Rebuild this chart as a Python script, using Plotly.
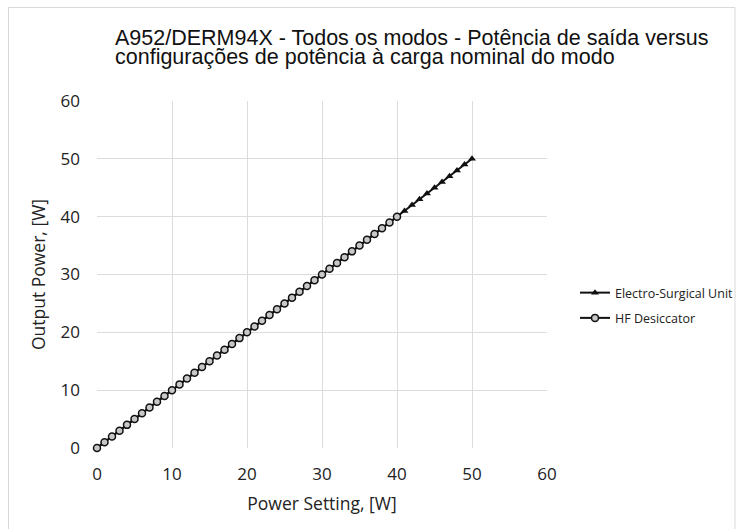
import plotly.graph_objects as go

# Data
esu_setting = list(range(0, 51))
esu_output = list(range(0, 51))
hf_setting = list(range(0, 41))
hf_output = list(range(0, 41))

x_ticks = [0, 10, 20, 30, 40, 50, 60]
y_ticks = [0, 10, 20, 30, 40, 50, 60]

title_line1 = "A952/DERM94X - Todos os modos - Potência de saída versus"
title_line2 = "configurações de potência à carga nominal do modo"

W, H = 737, 529
L, R, T, B = 97, 190, 101, 81
pw, ph = W - L - R, H - T - B

def px(xp):
    return (xp - L) / pw

def py(yp):
    return (H - B - yp) / ph

fig = go.Figure()
fig.add_trace(go.Scatter(
    x=esu_setting, y=esu_output, mode="lines+markers", name="Electro-Surgical Unit",
    line=dict(color="#111111", width=2),
    marker=dict(symbol="triangle-up", size=7, color="#111111"),
    legendgroup="a", cliponaxis=False,
))
fig.add_trace(go.Scatter(
    x=hf_setting, y=hf_output, mode="lines+markers", name="HF Desiccator",
    line=dict(color="#111111", width=2),
    marker=dict(symbol="circle", size=7, color="#c8c8c8", line=dict(color="#111111", width=1.5)),
    legendgroup="b", cliponaxis=False,
))

tick_font = dict(family="Open Sans, sans-serif", size=17, color="#222222")
title_font_ax = dict(family="Open Sans, sans-serif", size=17.5, color="#222222")
fig.update_layout(
    width=W, height=H,
    margin=dict(l=L, r=R, t=T, b=B, pad=0, autoexpand=False),
    paper_bgcolor="white", plot_bgcolor="white",
    showlegend=True,
    legend=dict(x=px(575), y=py(278), xanchor="left", yanchor="top",
                font=dict(family="Open Sans, sans-serif", size=12.5, color="#222222"),
                traceorder="grouped", tracegroupgap=6, bgcolor="rgba(0,0,0,0)"),
    xaxis=dict(range=[0, 60], tickvals=x_ticks, showgrid=True, gridcolor="#dcdcdc", gridwidth=1,
               zeroline=False, showline=False, ticks="", tickfont=tick_font, ticklabelstandoff=14,
               title=dict(text="Power Setting, [W]", font=title_font_ax, standoff=13)),
    yaxis=dict(range=[0, 60], tickvals=y_ticks, showgrid=True, gridcolor="#dcdcdc", gridwidth=1,
               zeroline=False, showline=False, ticks="", tickfont=tick_font, ticklabelstandoff=16,
               title=dict(text="Output Power, [W]", font=title_font_ax, standoff=10)),
    font=dict(family="Open Sans, sans-serif"),
)

title_font = dict(family="Liberation Sans, Arial, sans-serif", size=21.5, color="#111111")
fig.add_annotation(text=title_line1, xref="paper", yref="paper", x=px(113), y=py(38),
                   xanchor="left", yanchor="middle", showarrow=False, font=title_font)
fig.add_annotation(text=title_line2, xref="paper", yref="paper", x=px(113), y=py(57),
                   xanchor="left", yanchor="middle", showarrow=False, font=title_font)

fig.add_shape(type="rect", xref="paper", yref="paper",
              x0=px(8.5), x1=px(735), y0=py(540), y1=py(7.5),
              line=dict(color="#d9d9d9", width=1), fillcolor="rgba(0,0,0,0)", layer="below")

fig.write_html("out.html")
